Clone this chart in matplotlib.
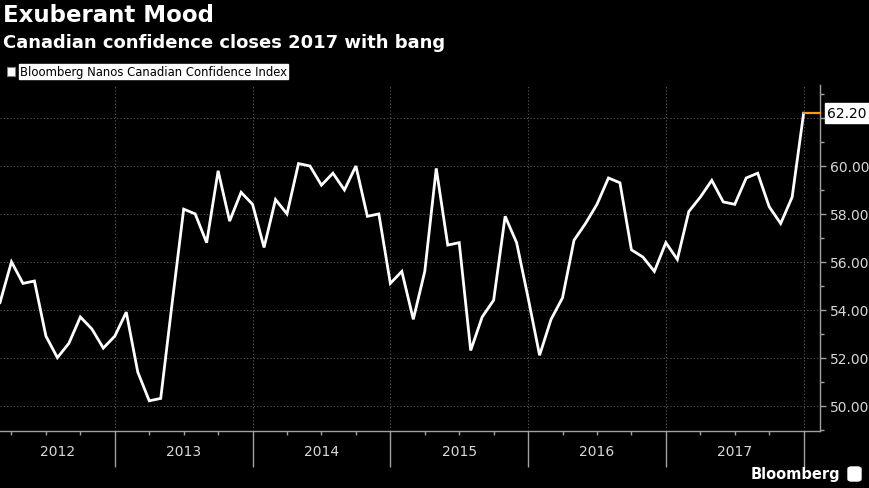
import matplotlib
matplotlib.use("Agg")
import matplotlib.pyplot as plt
from matplotlib.patches import Rectangle, FancyBboxPatch
from matplotlib.ticker import FixedLocator, NullFormatter

# ---------------- data ----------------
title = "Exuberant Mood"
subtitle = "Canadian confidence closes 2017 with bang"
series_name = "Bloomberg Nanos Canadian Confidence Index"
years = ["2012", "2013", "2014", "2015", "2016", "2017"]
# monthly readings, Feb 2012 .. Dec 2017
values_2012 = [54.3, 56.0, 55.1, 55.2, 52.9, 52.0, 52.6, 53.7, 53.2, 52.4, 52.9]
values_2013 = [53.9, 51.4, 50.2, 50.3, 54.3, 58.2, 58.0, 56.8, 59.8, 57.7, 58.9, 58.4]
values_2014 = [56.6, 58.6, 58.0, 60.1, 60.0, 59.2, 59.7, 59.0, 60.0, 57.9, 58.0, 55.1]
values_2015 = [55.6, 53.6, 55.6, 59.9, 56.7, 56.8, 52.3, 53.7, 54.4, 57.9, 56.8, 54.5]
values_2016 = [52.1, 53.6, 54.5, 56.9, 57.6, 58.4, 59.5, 59.3, 56.5, 56.2, 55.6, 56.8]
values_2017 = [56.1, 58.1, 58.7, 59.4, 58.5, 58.4, 59.5, 59.7, 58.3, 57.6, 58.7, 62.2]
y_ticks = [50, 52, 54, 56, 58, 60, 62]
first_month = 2  # February 2012

values = values_2012 + values_2013 + values_2014 + values_2015 + values_2016 + values_2017
x = list(range(len(values)))  # month index, 0 = Feb 2012
last_val = values[-1]

# ---------------- figure ----------------
W, H = 870, 489
fig = plt.figure(figsize=(W / 100, H / 100), dpi=100, facecolor="black")

ax = fig.add_axes([0.0, 1 - 432 / H, 820.5 / W, (432 - 86) / H])
ax.set_facecolor("black")

ax.plot(x, values, color="white", lw=2.0, solid_joinstyle="miter", zorder=3)

x_end = 71.47
ax.set_xlim(0, x_end)
ax.set_ylim(48.94, 63.38)

# last value marker line
ax.plot([x[-1], x_end], [last_val, last_val], color="#f39c1e", lw=1.6, zorder=4, clip_on=False)

# spines
for s in ["left", "top"]:
    ax.spines[s].set_visible(False)
for s in ["right", "bottom"]:
    ax.spines[s].set_color("#a0a0a0")
    ax.spines[s].set_linewidth(1.0)

# y axis on right (top label hidden behind the last-value box, as in the reference)
ax.yaxis.tick_right()
ax.yaxis.set_major_locator(FixedLocator(y_ticks))
ax.yaxis.set_minor_locator(FixedLocator([v + 1 for v in y_ticks] + [49]))
ax.set_yticklabels([f"{v:.2f}" if abs(v - last_val) > 1 else "" for v in y_ticks])
ax.tick_params(axis="y", which="major", direction="out", length=4, width=1,
               colors="#a0a0a0", labelcolor="#d8d8d8", labelsize=10, pad=3)
ax.tick_params(axis="y", which="minor", direction="out", length=3, width=1, colors="#a0a0a0")

# x axis: year boundaries (end of December) and quarter ticks
n_years = len(years)
year_bounds = [(12 - first_month) + 12 * k for k in range(n_years)]
quarter_ticks = []
for k in range(-1, n_years):
    for q in (3, 6, 9):
        m = (q - first_month) + 12 * k
        if 0 <= m <= x_end:
            quarter_ticks.append(m)
ax.xaxis.set_major_locator(FixedLocator(year_bounds))
ax.xaxis.set_minor_locator(FixedLocator(quarter_ticks))
ax.xaxis.set_major_formatter(NullFormatter())
ax.xaxis.set_minor_formatter(NullFormatter())
ax.tick_params(axis="x", which="major", direction="out", length=26, width=1, colors="#a0a0a0")
ax.tick_params(axis="x", which="minor", direction="out", length=3, width=1, colors="#a0a0a0")

# year labels centred in each year span
starts = [0] + year_bounds[:-1]
for yr, a, b in zip(years, starts, year_bounds):
    ax.text((a + b) / 2, -0.058, yr, transform=ax.get_xaxis_transform(),
            ha="center", va="center", color="#d8d8d8", fontsize=10)

# grid
ax.grid(True, which="major", axis="both", color="#5a5a5a", lw=0.8, linestyle=(0, (1, 2)))
ax.set_axisbelow(True)

# last value label
ax.annotate(f"{last_val:.2f}", xy=(1.0, last_val), xycoords=("axes fraction", "data"),
            xytext=(5, 0), textcoords="offset points", ha="left", va="center",
            fontsize=10, color="black",
            bbox=dict(boxstyle="square,pad=0.2", fc="white", ec="white"),
            annotation_clip=False, zorder=6)

# titles
fig.text(3 / W, 1 - 16 / H, title, color="white", fontsize=16.5, fontweight="bold",
         ha="left", va="center")
fig.text(3 / W, 1 - 43 / H, subtitle, color="white", fontsize=13, fontweight="bold",
         ha="left", va="center")

# legend
fig.patches.append(Rectangle((7 / W, 1 - 77 / H), 8 / W, 9 / H, transform=fig.transFigure,
                             fc="white", ec="#808080", lw=0.8))
fig.text(20 / W, 1 - 72.5 / H, series_name, color="black", fontsize=8.4,
         ha="left", va="center",
         bbox=dict(boxstyle="square,pad=0.12", fc="white", ec="white"))

# branding
fig.text(840 / W, 1 - 475 / H, "Bloomberg", color="white", fontsize=10.5, fontweight="bold",
         ha="right", va="center")
fig.patches.append(FancyBboxPatch((848 / W, 1 - 482 / H), 13 / W, 14 / H,
                                  boxstyle="round,pad=0.0,rounding_size=0.004",
                                  transform=fig.transFigure, fc="white", ec="white"))

fig.savefig("out.png", dpi=100, facecolor="black")
